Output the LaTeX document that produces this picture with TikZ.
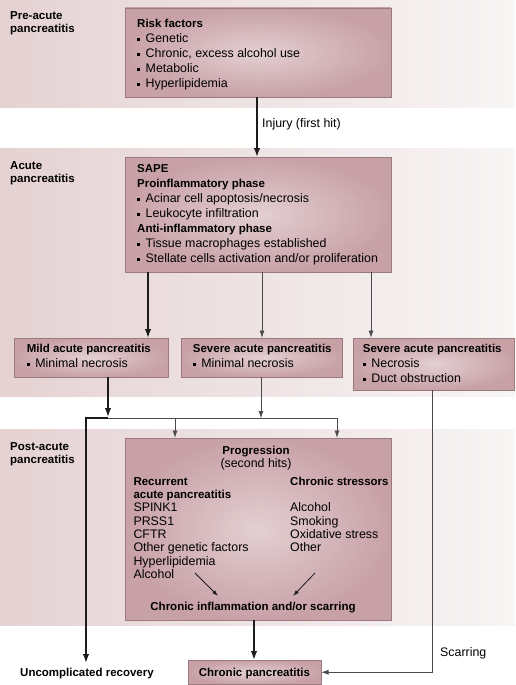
\documentclass[tikz,border=0pt]{standalone}
\usepackage{fontspec}
\setmainfont{Liberation Sans}
\usetikzlibrary{arrows.meta,shadings,calc}
\definecolor{bandL}{HTML}{E5D2D3}
\definecolor{bandR}{HTML}{F8F5F5}
\definecolor{boxout}{HTML}{C8A1A7}
\definecolor{boxin}{HTML}{E3CFD1}
\definecolor{boxline}{HTML}{9A7A7F}
\definecolor{thinline}{HTML}{4A4A4A}
\definecolor{thickline}{HTML}{1C1C1C}
\newcommand{\bsq}{\raisebox{1.5pt}{\rule{3pt}{3pt}}\hspace{5.5pt}}
\begin{document}
\begin{tikzpicture}[x=1pt,y=-1pt,
  box/.style={draw=boxline,line width=0.7pt,inner color=boxin,outer color=boxout,
    anchor=north west,inner sep=0pt,outer sep=0pt},
  txt/.style={anchor=base west,inner sep=0pt,font=\fontsize{12.4}{15}\selectfont},
  btxt/.style={anchor=base west,inner sep=0pt,font=\fontsize{11.5}{15}\selectfont\bfseries},
  ctxt/.style={anchor=base,inner sep=0pt,font=\fontsize{12.4}{15}\selectfont},
  cbtxt/.style={anchor=base,inner sep=0pt,font=\fontsize{11.5}{15}\selectfont\bfseries},
  thickarr/.style={draw=thickline,line width=1.7pt,-{Latex[length=9pt,width=6.5pt]}},
  thinarr/.style={draw=thinline,line width=0.9pt,-{Latex[length=7.5pt,width=5pt]}},
  thickln/.style={draw=thickline,line width=1.7pt},
  thinln/.style={draw=thinline,line width=0.9pt},
]
\useasboundingbox (0,0) rectangle (515,685);
% bands
\shade[left color=bandL,right color=bandR] (0,0) rectangle (515,107);
\shade[left color=bandL,right color=bandR] (0,148) rectangle (515,396);
\shade[left color=bandL,right color=bandR] (0,429) rectangle (515,625);

% section labels
\node[btxt] (preA) at (10,19.5) {Pre-acute};
\node[btxt] (preB) at (10,33) {pancreatitis};
\node[btxt] (acA) at (10,169) {Acute};
\node[btxt] (acB) at (10,182.5) {pancreatitis};
\node[btxt] (poA) at (10,450) {Post-acute};
\node[btxt] (poB) at (10,463) {pancreatitis};

% risk box
\node[box,minimum width=266pt,minimum height=89pt] (risk) at (125,8) {};
\node[btxt] (r0) at (137,27.5) {Risk factors};
\node[txt] (r1) at (137,42.5) {\bsq Genetic};
\node[txt] (r2) at (137,57.5) {\bsq Chronic, excess alcohol use};
\node[txt] (r3) at (137,72.5) {\bsq Metabolic};
\node[txt] (r4) at (137,87.5) {\bsq Hyperlipidemia};

% SAPE box
\node[box,minimum width=266pt,minimum height=115pt] (sape) at (125,157) {};
\node[btxt] (s0) at (137,172.3) {SAPE};
\node[btxt] (s1) at (137,187.3) {Proinflammatory phase};
\node[txt] (s2) at (137,202.3) {\bsq Acinar cell apoptosis/necrosis};
\node[txt] (s3) at (137,217.3) {\bsq Leukocyte infiltration};
\node[btxt] (s4) at (137,232.3) {Anti-inflammatory phase};
\node[txt] (s5) at (137,247.3) {\bsq Tissue macrophages established};
\node[txt] (s6) at (137,262.3) {\bsq Stellate cells activation and/or proliferation};

% injury arrow
\draw[thickarr] (risk.south -| 257,0) -- (sape.north -| 257,0);
\node[txt] (inj) at (262,127.5) {Injury (first hit)};

% middle boxes
\node[box,minimum width=154pt,minimum height=39pt] (mild) at (14,338) {};
\node[btxt] (m0) at (26.7,352.7) {Mild acute pancreatitis};
\node[txt] (m1) at (26.7,367.7) {\bsq Minimal necrosis};
\node[box,minimum width=161pt,minimum height=39pt] (sev) at (181,338) {};
\node[btxt] (v0) at (192.7,352.7) {Severe acute pancreatitis};
\node[txt] (v1) at (192.7,367.7) {\bsq Minimal necrosis};
\node[box,minimum width=161.5pt,minimum height=52pt] (sevr) at (353,338) {};
\node[btxt] (w0) at (362.7,352.7) {Severe acute pancreatitis};
\node[txt] (w1) at (362.7,367.7) {\bsq Necrosis};
\node[txt] (w2) at (362.7,382.7) {\bsq Duct obstruction};

% arrows from SAPE
\draw[thickarr] (sape.south -| 148,0) -- (mild.north -| 148,0);
\draw[thinarr] (sape.south -| 262,0) -- (sev.north -| 262,0);
\draw[thinarr] (sape.south -| 371,0) -- (sevr.north -| 371,0);

% progression box
\node[box,minimum width=266pt,minimum height=182pt] (prog) at (125,438) {};
\node[cbtxt] (p0) at (256,454) {Progression};
\node[ctxt] (p1) at (256,467.3) {(second hits)};
\node[btxt] (pa0) at (133.3,485) {Recurrent};
\node[btxt] (pa1) at (133.3,498.3) {acute pancreatitis};
\node[txt] (pa2) at (133.3,511.7) {SPINK1};
\node[txt] (pa3) at (133.3,525) {PRSS1};
\node[txt] (pa4) at (133.3,538.4) {CFTR};
\node[txt] (pa5) at (133.3,551.8) {Other genetic factors};
\node[txt] (pa6) at (133.3,565.2) {Hyperlipidemia};
\node[txt] (pa7) at (133.3,578.6) {Alcohol};
\node[btxt] (pb0) at (290,485) {Chronic stressors};
\node[txt] (pb1) at (290,511.7) {Alcohol};
\node[txt] (pb2) at (290,525) {Smoking};
\node[txt] (pb3) at (290,538.4) {Oxidative stress};
\node[txt] (pb4) at (290,551.8) {Other};
\node[cbtxt] (pc) at (253,610.5) {Chronic inflammation and/or scarring};
\coordinate (la) at (195,573);
\coordinate (lb) at (218,596);
\coordinate (ra) at (315,573);
\coordinate (rb) at (293,596);
\draw[draw=thickline,line width=0.8pt,-{Latex[length=6pt,width=4pt]}] (la) -- (lb);
\draw[draw=thickline,line width=0.8pt,-{Latex[length=6pt,width=4pt]}] (ra) -- (rb);

% junction
\coordinate (jl) at (86,418);
\coordinate (jm) at (108,418);
\coordinate (jr) at (337,418);
\coordinate (rec) at (86,663);
\draw[thinln] (jm) -- (jr);
\draw[thickln] (108,418) -- (jl);
\draw[thickarr] (mild.south -| jm) -- ($(jm)+(0,-1)$);
\draw[thinarr] (sev.south -| 261,0) -- (261,418.5);
\draw[thickarr] ($(jl)+(0,-0.85)$) -- (rec);
\draw[thinarr] (175,418) -- (prog.north -| 175,0);
\draw[thinarr] ($(jr)+(0,-0.45)$) -- (prog.north -| jr);

% bottom
\node[box,minimum width=133pt,minimum height=24.5pt] (chron) at (188,660) {};
\node[cbtxt] (ct) at (254.5,676) {Chronic pancreatitis};
\draw[thickarr] (prog.south -| 254,0) -- (chron.north -| 254,0);
\draw[thinarr] (sevr.south -| 432,0) |- (chron.east);
\node[txt] (scar) at (440,656) {Scarring};
\node[btxt] (ur) at (20,676) {Uncomplicated recovery};
\end{tikzpicture}
\end{document}
